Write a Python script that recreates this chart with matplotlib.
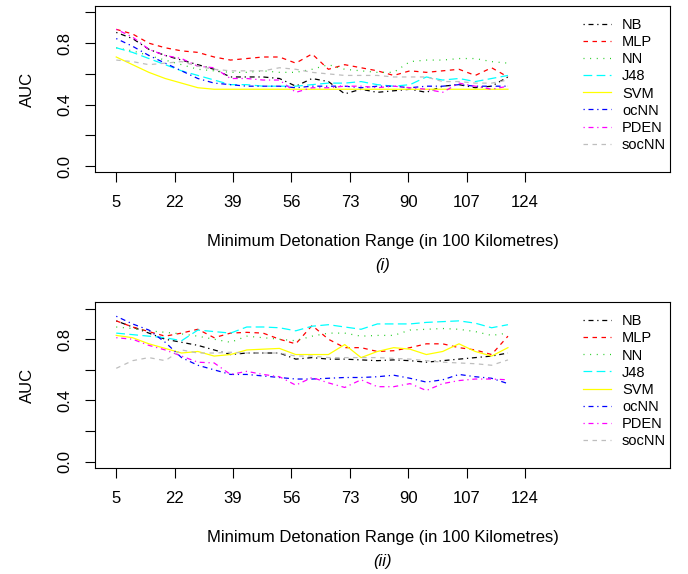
import matplotlib
matplotlib.use("Agg")
import matplotlib.pyplot as plt

plt.rcParams['font.family'] = ['Liberation Sans', 'DejaVu Sans']

# x positions of the samples (minimum detonation range, in 100 km)
ranges = [5, 9.75, 14.5, 19.25, 24, 28.75, 33.5, 38.25, 43, 47.75, 52.5, 57.25, 62,
          66.75, 71.5, 76.25, 81, 85.75, 90.5, 95.25, 100, 104.75, 109.5, 114.25, 119]
tick_values = [5, 22, 39, 56, 73, 90, 107, 124]
methods = ['NB', 'MLP', 'NN', 'J48', 'SVM', 'ocNN', 'PDEN', 'socNN']

# panel (i)
nb_i = [0.87, 0.83, 0.76, 0.72, 0.69, 0.66, 0.63, 0.58, 0.58, 0.58, 0.57, 0.52, 0.57,
        0.55, 0.47, 0.50, 0.48, 0.49, 0.50, 0.48, 0.52, 0.53, 0.51, 0.52, 0.58]
mlp_i = [0.89, 0.86, 0.80, 0.77, 0.75, 0.74, 0.71, 0.69, 0.70, 0.71, 0.71, 0.67, 0.73,
         0.63, 0.66, 0.64, 0.62, 0.59, 0.62, 0.61, 0.62, 0.63, 0.59, 0.64, 0.58]
nn_i = [0.77, 0.75, 0.72, 0.69, 0.66, 0.63, 0.62, 0.61, 0.61, 0.62, 0.61, 0.61, 0.63,
        0.66, 0.63, 0.62, 0.61, 0.61, 0.68, 0.69, 0.69, 0.70, 0.70, 0.68, 0.67]
j48_i = [0.77, 0.74, 0.70, 0.66, 0.62, 0.59, 0.56, 0.53, 0.53, 0.52, 0.52, 0.52, 0.53,
         0.54, 0.54, 0.55, 0.53, 0.52, 0.53, 0.58, 0.56, 0.57, 0.55, 0.57, 0.59]
svm_i = [0.71, 0.66, 0.61, 0.57, 0.54, 0.51, 0.50, 0.50, 0.50, 0.50, 0.50, 0.50, 0.50,
         0.50, 0.50, 0.50, 0.50, 0.50, 0.50, 0.50, 0.50, 0.50, 0.50, 0.50, 0.50]
ocnn_i = [0.83, 0.78, 0.72, 0.67, 0.62, 0.57, 0.54, 0.53, 0.52, 0.52, 0.52, 0.51, 0.52,
          0.52, 0.52, 0.51, 0.52, 0.52, 0.51, 0.52, 0.52, 0.53, 0.52, 0.52, 0.52]
pden_i = [0.89, 0.84, 0.76, 0.72, 0.70, 0.65, 0.64, 0.57, 0.57, 0.56, 0.56, 0.48, 0.51,
          0.51, 0.52, 0.52, 0.51, 0.52, 0.51, 0.50, 0.48, 0.54, 0.52, 0.50, 0.52]
socnn_i = [0.69, 0.68, 0.66, 0.67, 0.68, 0.65, 0.63, 0.62, 0.62, 0.62, 0.64, 0.63, 0.61,
           0.60, 0.59, 0.59, 0.59, 0.58, 0.58, 0.58, 0.55, 0.55, 0.54, 0.54, 0.56]

# panel (ii)
nb_ii = [0.92, 0.88, 0.84, 0.80, 0.78, 0.76, 0.73, 0.70, 0.71, 0.71, 0.71, 0.67, 0.68,
         0.67, 0.67, 0.665, 0.66, 0.665, 0.66, 0.65, 0.66, 0.67, 0.68, 0.69, 0.71]
mlp_ii = [0.92, 0.88, 0.85, 0.82, 0.84, 0.865, 0.81, 0.84, 0.845, 0.84, 0.80, 0.77, 0.89,
          0.80, 0.745, 0.745, 0.72, 0.725, 0.745, 0.77, 0.77, 0.745, 0.73, 0.70, 0.82]
nn_ii = [0.88, 0.87, 0.855, 0.845, 0.835, 0.82, 0.80, 0.78, 0.82, 0.81, 0.80, 0.79, 0.82,
         0.84, 0.84, 0.82, 0.825, 0.825, 0.86, 0.865, 0.87, 0.865, 0.85, 0.825, 0.84]
j48_ii = [0.84, 0.83, 0.82, 0.81, 0.79, 0.86, 0.85, 0.84, 0.88, 0.88, 0.875, 0.855, 0.885,
          0.895, 0.88, 0.865, 0.90, 0.90, 0.90, 0.91, 0.915, 0.92, 0.905, 0.875, 0.895]
svm_ii = [0.825, 0.81, 0.77, 0.74, 0.71, 0.72, 0.69, 0.70, 0.73, 0.735, 0.74, 0.70, 0.70,
          0.70, 0.765, 0.68, 0.72, 0.745, 0.735, 0.70, 0.72, 0.77, 0.72, 0.69, 0.745]
ocnn_ii = [0.95, 0.90, 0.86, 0.78, 0.68, 0.63, 0.60, 0.57, 0.57, 0.56, 0.55, 0.54, 0.54,
           0.545, 0.55, 0.55, 0.555, 0.565, 0.545, 0.52, 0.535, 0.57, 0.555, 0.545, 0.51]
pden_ii = [0.81, 0.80, 0.76, 0.73, 0.69, 0.65, 0.645, 0.57, 0.59, 0.57, 0.555, 0.50, 0.55,
           0.515, 0.485, 0.535, 0.49, 0.49, 0.51, 0.465, 0.51, 0.53, 0.54, 0.54, 0.535]
socnn_ii = [0.61, 0.66, 0.68, 0.66, 0.73, 0.71, 0.71, 0.715, 0.71, 0.71, 0.71, 0.69, 0.69,
            0.68, 0.68, 0.68, 0.68, 0.675, 0.67, 0.66, 0.65, 0.645, 0.64, 0.63, 0.665]

colors = ['black', 'red', '#22cc22', 'cyan', 'yellow', 'blue', 'magenta', '#bebebe']
styles = [(0, (1, 3, 4, 3)), (0, (3.6, 3.6)), (0, (0.8, 4.5)), (0, (7, 3.5)),
          'solid', (0, (1, 3, 4, 3)), (0, (1, 3, 4, 3)), (0, (3.6, 3.6))]


def make_panel(ax, series, tag):
    for vals, name, c, ls in zip(series, methods, colors, styles):
        ax.plot(ranges, vals, color=c, linestyle=ls, lw=0.9, label=name)

    ax.set_xlim(-1.2, 166.2)
    ax.set_ylim(-0.04, 1.04)
    ax.set_xticks(tick_values)
    ax.set_yticks([0, 0.2, 0.4, 0.6, 0.8, 1.0])
    ax.set_yticklabels(['0.0', '', '0.4', '', '0.8', ''], rotation=90, va='center')
    ax.tick_params(axis='both', length=7.2, width=0.8, labelsize=12)
    ax.tick_params(axis='x', pad=9.5)
    ax.tick_params(axis='y', pad=9)
    for s in ax.spines.values():
        s.set_linewidth(0.8)

    ax.set_ylabel('AUC', fontsize=12)
    ax.yaxis.label.set_va('center')
    ax.yaxis.set_label_coords(-0.118, 0.5)
    ax.set_xlabel('Minimum Detonation Range (in 100 Kilometres)', fontsize=12)
    ax.xaxis.label.set_va('center')
    ax.xaxis.set_label_coords(0.5, -0.42)
    ax.text(0.5, -0.565, tag, transform=ax.transAxes, ha='center', va='center',
            fontsize=12, style='italic')

    ax.legend(loc='upper left', bbox_to_anchor=(0.849, 0.928), frameon=False,
              fontsize=10.5, handlelength=1.9, handletextpad=0.75, labelspacing=0.21,
              borderpad=0, borderaxespad=0)


fig = plt.figure(figsize=(6.88, 5.74), dpi=100)
ax1 = fig.add_axes([0.138, 0.700, 0.836, 0.289])
ax2 = fig.add_axes([0.138, 0.185, 0.836, 0.288])

make_panel(ax1, [nb_i, mlp_i, nn_i, j48_i, svm_i, ocnn_i, pden_i, socnn_i], '(i)')
make_panel(ax2, [nb_ii, mlp_ii, nn_ii, j48_ii, svm_ii, ocnn_ii, pden_ii, socnn_ii], '(ii)')

fig.savefig('out.png', dpi=100)
